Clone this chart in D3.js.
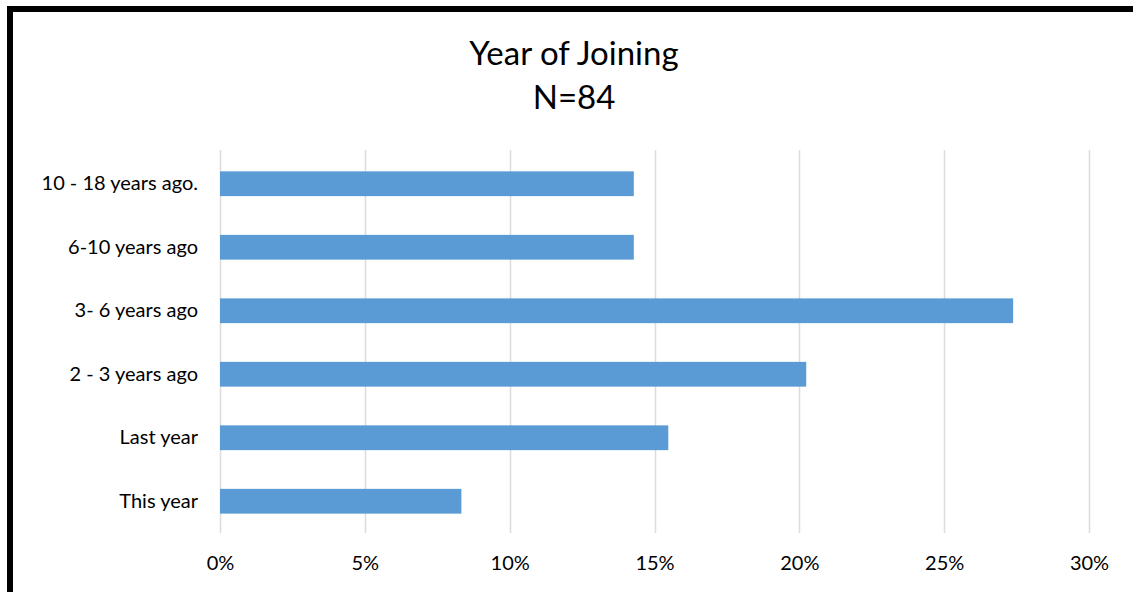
<!DOCTYPE html>
<html>
<head>
<meta charset="utf-8">
<script src="https://cdn.jsdelivr.net/npm/d3@7"></script>
<style>
  html, body { margin: 0; padding: 0; background: #fff; }
  svg { display: block; }
</style>
</head>
<body>
<svg id="chart" width="1133" height="592"></svg>
<script>
// Share of members by when they joined (N = 84)
const categories = ["10 - 18 years ago.", "6-10 years ago", "3- 6 years ago", "2 - 3 years ago", "Last year", "This year"];
const counts = [12, 12, 23, 17, 13, 7];
const total = 84;
const shares = counts.map(c => c / total);
const tickValues = [0, 0.05, 0.10, 0.15, 0.20, 0.25, 0.30];
const titleLines = ["Year of Joining", "N=84"];

const font = "Lato, 'Open Sans', sans-serif";
const svg = d3.select("#chart");

// frame: thick black rule along top and left
svg.append("rect").attr("x", 7).attr("y", 6).attr("width", 1126).attr("height", 6).attr("fill", "#000");
svg.append("rect").attr("x", 7).attr("y", 6).attr("width", 6).attr("height", 586).attr("fill", "#000");

const plot = { left: 220, right: 1089, top: 150, bottom: 533 };

const x = d3.scaleLinear().domain([0, 0.30]).range([plot.left, plot.right]);
const y = d3.scaleBand().domain(categories).range([152, plot.bottom]).paddingInner(0.61).paddingOuter(0.305);

// vertical gridlines
svg.append("g").selectAll("line").data(tickValues).join("line")
  .attr("x1", d => Math.round(x(d)) + 0.5).attr("x2", d => Math.round(x(d)) + 0.5)
  .attr("y1", plot.top).attr("y2", plot.bottom)
  .attr("stroke", "#dcdcdc").attr("stroke-width", 1.5);

// bars
svg.append("g").selectAll("rect").data(categories).join("rect")
  .attr("x", x(0)).attr("y", d => y(d))
  .attr("width", (d, i) => x(shares[i]) - x(0))
  .attr("height", y.bandwidth())
  .attr("fill", "#5b9bd5");

// category axis
const yAxis = d3.axisLeft(y).tickSize(0).tickPadding(22);
const gy = svg.append("g").attr("transform", `translate(${plot.left},0)`).call(yAxis);
gy.select(".domain").remove();
gy.selectAll("text").attr("font-family", font).attr("font-size", 20).attr("fill", "#000");

// value axis
const xAxis = d3.axisBottom(x).tickValues(tickValues).tickFormat(d3.format(".0%")).tickSize(0).tickPadding(23);
const gx = svg.append("g").attr("transform", `translate(0,${plot.bottom})`).call(xAxis);
gx.select(".domain").remove();
gx.selectAll("text").attr("font-family", font).attr("font-size", 20).attr("fill", "#000");

// title
svg.append("g").selectAll("text").data(titleLines).join("text")
  .attr("x", 574).attr("y", (d, i) => 65 + i * 44)
  .attr("text-anchor", "middle")
  .attr("font-family", font).attr("font-size", 33).attr("fill", "#000")
  .text(d => d);
</script>
</body>
</html>
